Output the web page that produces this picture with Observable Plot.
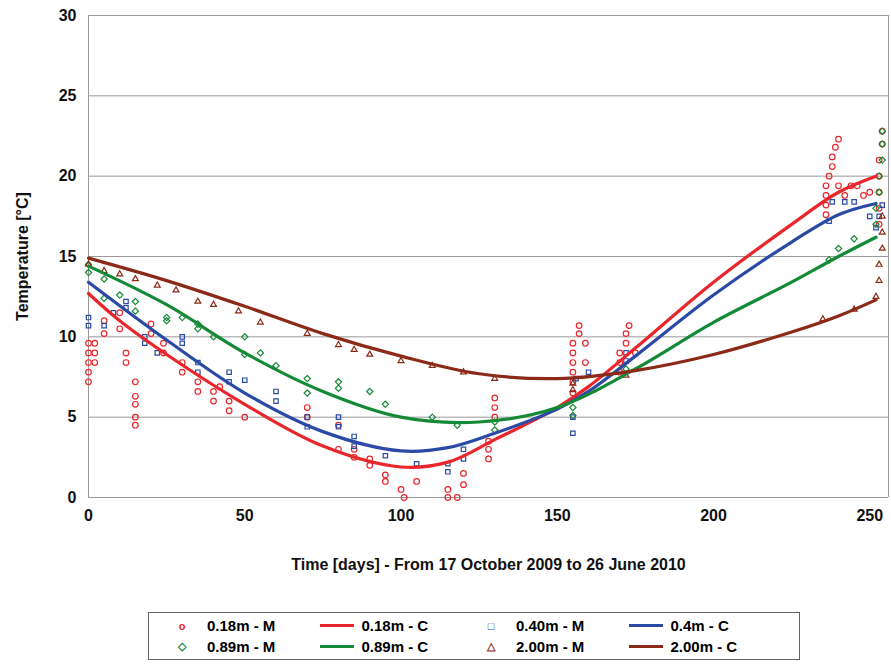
<!DOCTYPE html>
<html><head><meta charset="utf-8">
<script src="https://cdn.jsdelivr.net/npm/d3@7"></script>
<script src="https://cdn.jsdelivr.net/npm/@observablehq/plot@0.6"></script>
<style>
body{margin:0;background:#fff;font-family:"Liberation Sans",Arial,sans-serif;}
#legend{position:absolute;left:148px;top:612px;width:652px;height:48px;border:1px solid #666;box-sizing:border-box;
 display:grid;grid-template-columns:repeat(4,1fr);font-weight:bold;font-size:15px;padding:2px 16px;}
#legend div{display:flex;align-items:center;gap:8px;}
</style></head>
<body><div id="chart"></div><div id="legend"></div>
<script>
// measured points [day, °C]
const m018 = [[0,7.2],[0,7.8],[0,8.4],[0,9.0],[0,9.6],[2,8.4],[2,9.0],[2,9.6],[5,10.2],[5,11.0],[10,10.5],[10,11.5],[12,9.0],[12,8.4],[15,4.5],[15,5.0],[15,5.8],[15,6.3],[15,7.2],[20,10.8],[20,10.2],[24,9.6],[24,9.0],[30,7.8],[30,8.4],[35,7.2],[35,6.6],[40,6.0],[40,6.6],[42,6.9],[45,5.4],[45,6.0],[50,5.0],[70,5.0],[70,5.6],[80,4.5],[80,3.0],[85,2.5],[85,3.0],[90,2.0],[90,2.4],[95,1.4],[95,1.0],[100,0.5],[101,0],[105,1.0],[115,0.5],[115,0],[118,0],[120,0.8],[120,1.5],[128,2.4],[128,3.0],[128,3.5],[130,5.0],[130,5.6],[130,6.2],
 [155,6.5],[155,7.2],[155,7.8],[155,8.4],[155,9.0],[155,9.6],[157,10.2],[157,10.7],[159,8.4],[159,9.6],[170,7.8],[170,8.4],[170,9.0],[172,9.6],[172,10.2],[173,10.7],[175,9.0],
 [236,17.6],[236,18.2],[236,18.8],[236,19.4],[237,20.0],[238,20.6],[238,21.2],[239,21.8],[240,22.3],[240,19.4],[242,18.8],[244,19.4],[246,19.4],[248,18.8],[250,19.0],
 [253,17.0],[253,18.0],[253,19.0],[253,20.0],[253,21.0],[254,22.0],[254,22.8]];
const m040 = [[0,11.2],[0,10.7],[5,10.7],[8,11.5],[12,11.8],[12,12.2],[18,9.6],[18,10.0],[22,9.0],[30,9.6],[30,10.0],[35,8.4],[35,7.8],[45,7.8],[45,7.2],[50,7.3],[60,6.0],[60,6.6],[70,5.0],[70,4.4],[80,4.4],[80,5.0],[85,3.8],[85,3.2],[95,2.6],[105,2.1],[115,2.1],[115,1.6],[120,2.4],[120,3.0],
 [155,4.0],[155,5.0],[156,7.4],[160,7.8],[172,8.5],[172,9.0],[237,17.2],[238,18.4],[242,18.4],[245,18.4],[250,17.5],[252,16.8],[253,17.5],[254,18.2]];
const m089 = [[0,14.0],[0,14.5],[5,13.6],[5,12.4],[10,12.6],[15,12.2],[15,11.6],[25,11.2],[25,11.0],[30,11.2],[35,10.5],[35,10.8],[40,10.0],[50,10.0],[50,8.9],[55,9.0],[60,8.2],[70,7.4],[70,6.5],[80,7.2],[80,6.8],[90,6.6],[95,5.8],[110,5.0],[118,4.5],[130,4.7],[130,4.2],
 [155,5.1],[155,5.6],[172,8.0],[237,14.8],[240,15.5],[245,16.1],[252,17.0],[252,18.0],[253,19.0],[253,20.0],[254,21.0],[254,22.0],[254,22.8]];
const m200 = [[0,14.5],[5,14.1],[10,13.9],[15,13.6],[22,13.2],[28,12.9],[35,12.2],[40,12.0],[48,11.6],[55,10.9],[70,10.2],[80,9.5],[85,9.2],[90,8.9],[100,8.5],[110,8.2],[120,7.8],[130,7.4],
 [155,7.1],[155,6.7],[172,7.6],[235,11.1],[245,11.7],[252,12.5],[253,13.5],[253,14.5],[254,15.5],[254,16.5],[254,17.5]];
// calculated curves
const c018 = [[0,12.7],[10,11.0],[25,8.9],[50,5.8],[75,3.2],[100,1.9],[115,2.2],[130,3.6],[150,5.6],[160,6.9],[175,9.3],[200,13.4],[225,17.0],[240,19.0],[252,20.0]];
const c040 = [[0,13.4],[25,9.8],[50,6.5],[75,4.1],[100,2.9],[115,3.1],[130,4.0],[150,5.5],[160,6.6],[175,8.8],[200,12.6],[225,15.9],[240,17.6],[252,18.3]];
const c089 = [[0,14.4],[25,12.0],[50,9.0],[75,6.6],[100,5.0],[125,4.7],[150,5.6],[175,8.0],[200,10.9],[225,13.4],[240,15.0],[252,16.2]];
const c200 = [[0,14.9],[25,13.5],[50,11.9],[75,10.2],[100,8.8],[125,7.7],[150,7.4],[175,7.9],[200,8.9],[225,10.3],[240,11.3],[252,12.3]];

const red = "#e8262b", blue = "#2b4aa5", green = "#158a36", brown = "#8b2a18";
const dot = (d, c, s) => Plot.dot(d, {x: d => d[0], y: d => d[1], stroke: c, symbol: s, r: 2.8, strokeWidth: 1.2});
const ln = (d, c) => Plot.line(d, {x: d => d[0], y: d => d[1], stroke: c, strokeWidth: 3.2, curve: "catmull-rom"});

const plot = Plot.plot({
  width: 891, height: 595,
  marginLeft: 88, marginRight: 3, marginTop: 15, marginBottom: 98,
  style: {fontFamily: "Liberation Sans, Arial, sans-serif", fontSize: "16px", fontWeight: "bold", color: "#111"},
  x: {domain: [0, 256]},
  y: {domain: [0, 30]},
  marks: [
    Plot.gridY([5,10,15,20,25,30], {stroke: "#999", strokeOpacity: 1}),
    Plot.ruleX([256], {stroke: "#999"}),
    Plot.axisX({ticks: [0,50,100,150,200,250], tickSize: 0, tickPadding: 12, label: "Time [days] - From 17 October 2009 to 26 June 2010", labelAnchor: "center", labelArrow: "none", labelOffset: 72}),
    Plot.axisY({ticks: [0,5,10,15,20,25,30], tickSize: 0, tickPadding: 12, label: "Temperature [°C]", labelAnchor: "center", labelArrow: "none", labelOffset: 72}),
    Plot.ruleX([0], {stroke: "#999"}),
    Plot.ruleY([0], {stroke: "#999"}),
    dot(m018, red, "circle"), dot(m040, blue, "square2"), dot(m089, green, "diamond2"), dot(m200, brown, "triangle2"),
    ln(c018, red), ln(c040, blue), ln(c089, green), ln(c200, brown)
  ]
});
document.getElementById("chart").append(plot);

const items = [["0.18m - M", red, "o"], ["0.18m - C", red, "-"], ["0.40m - M", blue, "□"], ["0.4m - C", blue, "-"],
  ["0.89m - M", green, "◇"], ["0.89m - C", green, "-"], ["2.00m - M", brown, "△"], ["2.00m - C", brown, "-"]];
const lg = document.getElementById("legend");
for (const [t, c, s] of items) {
  const d = document.createElement("div");
  const sw = s === "-" ? `<span style="display:inline-block;width:34px;height:3px;background:${c}"></span>`
    : `<span style="display:inline-block;width:34px;text-align:center;color:${c};font-size:11px">${s}</span>`;
  d.innerHTML = sw + "<span>" + t + "</span>";
  lg.append(d);
}
</script></body></html>
